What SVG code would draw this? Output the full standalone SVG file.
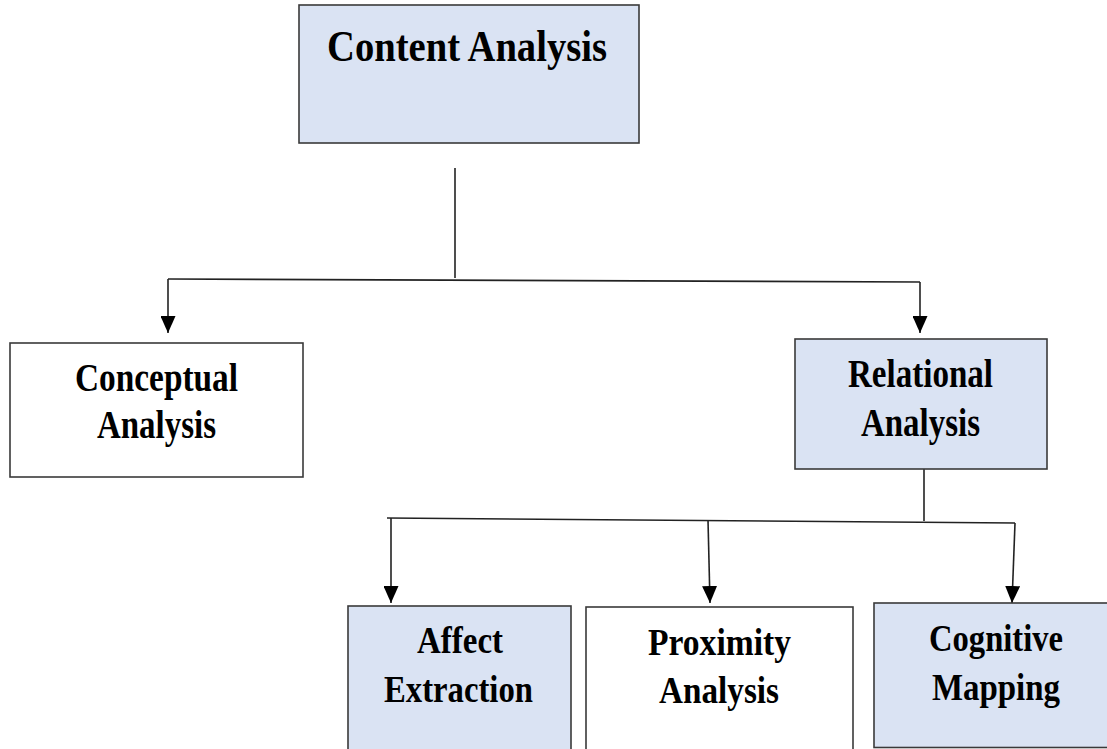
<svg xmlns="http://www.w3.org/2000/svg" width="1107" height="749" viewBox="0 0 1107 749">
  <style>
    .box { stroke: #3a3a3a; stroke-width: 1.6; }
    .blue { fill: #dae3f3; }
    .white { fill: #ffffff; }
    .lbl { font-family: "Liberation Serif", "Times New Roman", serif; font-weight: bold; fill: #000; text-anchor: middle; }
    .big { font-size: 45px; }
    .mid { font-size: 40px; }
    .sm { font-size: 37px; }
    .wire { stroke: #222; stroke-width: 1.6; fill: none; }
  </style>
  <defs>
    <marker id="arrow" viewBox="0 0 17 15" refX="17" refY="7.5" markerWidth="17" markerHeight="15" markerUnits="userSpaceOnUse" orient="auto">
      <path d="M0,0 L17,7.5 L0,15 z" fill="#000"/>
    </marker>
  </defs>
  <rect width="1107" height="749" fill="#ffffff"/>

  <!-- connectors -->
  <g id="connectors">
    <line class="wire" x1="455" y1="168" x2="455" y2="278"/>
    <polyline class="wire" points="168,279 920,282"/>
    <line class="wire" x1="168" y1="279" x2="168" y2="333" marker-end="url(#arrow)"/>
    <line class="wire" x1="920" y1="282" x2="920" y2="333" marker-end="url(#arrow)"/>
    <line class="wire" x1="924" y1="469" x2="924" y2="521"/>
    <polyline class="wire" points="387,518 1015,523"/>
    <line class="wire" x1="391" y1="518" x2="391" y2="603" marker-end="url(#arrow)"/>
    <line class="wire" x1="708" y1="520" x2="710" y2="603" marker-end="url(#arrow)"/>
    <line class="wire" x1="1015" y1="523" x2="1012" y2="603" marker-end="url(#arrow)"/>
  </g>

  <!-- root -->
  <g id="content-analysis">
    <rect class="box blue" x="299" y="5" width="340" height="138"/>
    <text class="lbl big" x="467" y="61" textLength="280" lengthAdjust="spacingAndGlyphs">Content Analysis</text>
  </g>

  <!-- second level -->
  <g id="conceptual-analysis">
    <rect class="box white" x="10" y="343" width="293" height="134"/>
    <text class="lbl mid" x="156.5" y="391" textLength="163" lengthAdjust="spacingAndGlyphs">Conceptual</text>
    <text class="lbl mid" x="156.5" y="438" textLength="119" lengthAdjust="spacingAndGlyphs">Analysis</text>
  </g>
  <g id="relational-analysis">
    <rect class="box blue" x="795" y="339" width="252" height="130"/>
    <text class="lbl mid" x="920.5" y="387" textLength="145" lengthAdjust="spacingAndGlyphs">Relational</text>
    <text class="lbl mid" x="920.5" y="436" textLength="119" lengthAdjust="spacingAndGlyphs">Analysis</text>
  </g>

  <!-- third level -->
  <g id="affect-extraction">
    <rect class="box blue" x="348" y="606" width="223" height="160"/>
    <text class="lbl sm" x="460" y="653" textLength="86" lengthAdjust="spacingAndGlyphs">Affect</text>
    <text class="lbl sm" x="458.5" y="702" textLength="149" lengthAdjust="spacingAndGlyphs">Extraction</text>
  </g>
  <g id="proximity-analysis">
    <rect class="box white" x="586" y="607" width="267" height="160"/>
    <text class="lbl sm" x="719.5" y="655" textLength="143" lengthAdjust="spacingAndGlyphs">Proximity</text>
    <text class="lbl sm" x="719" y="703" textLength="120" lengthAdjust="spacingAndGlyphs">Analysis</text>
  </g>
  <g id="cognitive-mapping">
    <rect class="box blue" x="874" y="603" width="250" height="144.5"/>
    <text class="lbl sm" x="996" y="651" textLength="134" lengthAdjust="spacingAndGlyphs">Cognitive</text>
    <text class="lbl sm" x="996" y="700" textLength="128" lengthAdjust="spacingAndGlyphs">Mapping</text>
  </g>
</svg>
